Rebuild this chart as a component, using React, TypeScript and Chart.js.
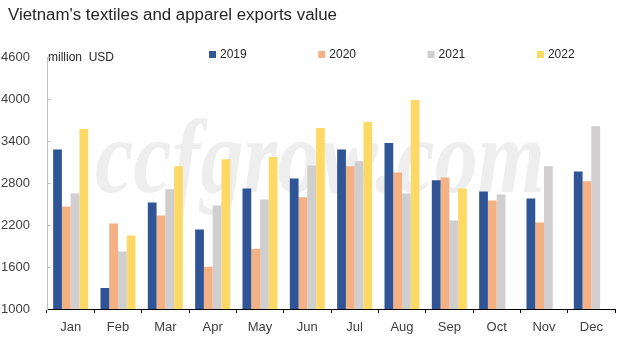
import React, { useEffect, useRef } from "react";
import { Chart, registerables } from "chart.js";

Chart.register(...registerables);

const months = ["Jan", "Feb", "Mar", "Apr", "May", "Jun", "Jul", "Aug", "Sep", "Oct", "Nov", "Dec"];
const seriesNames = ["2019", "2020", "2021", "2022"];
const v2019 = [3280, 1300, 2520, 2135, 2720, 2865, 3280, 3370, 2840, 2680, 2580, 2965];
const v2020 = [2465, 2220, 2335, 1605, 1860, 2595, 3040, 2950, 2880, 2550, 2235, 2825];
const v2021 = [2650, 1820, 2710, 2480, 2565, 3050, 3110, 2650, 2265, 2635, 3040, 3610];
const v2022 = [3570, 2050, 3040, 3140, 3170, 3585, 3670, 3985, 2720, null, null, null];
const colors = ["#2F5597", "#F4B183", "#D0CECE", "#FFD966"];
const yMin = 1000;
const yMax = 4600;
const yStep = 600;
const titleText = "Vietnam's textiles and apparel exports value";
const unitText = "million  USD";
const watermarkText = "ccfgrow.com";

const FONT = '"Liberation Sans", Arial, sans-serif';

const decorPlugin = {
  id: "decor",
  beforeDatasetsDraw(chart: any) {
    const ctx = chart.ctx;
    ctx.save();
    // watermark
    ctx.fillStyle = "#eeeeee";
    ctx.font = 'bold italic 106px "Liberation Serif", "DejaVu Serif", serif';
    ctx.textBaseline = "alphabetic";
    ctx.textAlign = "left";
    const w = ctx.measureText(watermarkText).width;
    ctx.translate(95, 192);
    ctx.scale(450 / w, 1);
    ctx.fillText(watermarkText, 0, 0);
    ctx.restore();
  },
  afterDraw(chart: any) {
    const ctx = chart.ctx;
    const area = chart.chartArea;
    const y = chart.scales.y;
    ctx.save();
    // title
    ctx.fillStyle = "#262626";
    ctx.font = "16px " + FONT;
    ctx.textAlign = "left";
    ctx.textBaseline = "alphabetic";
    const tw = ctx.measureText(titleText).width;
    ctx.save();
    ctx.translate(8, 20);
    ctx.scale(329 / tw, 1);
    ctx.fillText(titleText, 0, 0);
    ctx.restore();
    // unit
    ctx.fillStyle = "#262626";
    ctx.font = "12px " + FONT;
    ctx.fillText(unitText, area.left + 1, 61);
    // legend
    const legendStart = 209;
    const legendGap = 109.3;
    seriesNames.forEach((name, i) => {
      const x0 = legendStart + i * legendGap;
      ctx.fillStyle = colors[i];
      ctx.fillRect(x0, 51, 7, 7);
      ctx.fillStyle = "#262626";
      ctx.font = "12px " + FONT;
      ctx.textBaseline = "middle";
      ctx.fillText(name, x0 + 11, 55);
    });
    // inward y ticks
    ctx.strokeStyle = "#BFBFBF";
    ctx.lineWidth = 1;
    for (let v = yMin + yStep; v <= yMax; v += yStep) {
      const py = Math.round(y.getPixelForValue(v)) + 0.5;
      ctx.beginPath();
      ctx.moveTo(area.left, py);
      ctx.lineTo(area.left + 4, py);
      ctx.stroke();
    }
    ctx.restore();
  },
};

export default function App() {
  const ref = useRef<HTMLCanvasElement | null>(null);
  useEffect(() => {
    document.body.style.margin = "0";
    const canvas = ref.current!;
    const datasets = [v2019, v2020, v2021, v2022].map((d, i) => ({
      label: seriesNames[i],
      data: d,
      backgroundColor: colors[i],
      borderWidth: 0,
      categoryPercentage: 0.74,
      barPercentage: 1,
    }));
    const chart = new Chart(canvas, {
      type: "bar",
      data: { labels: months, datasets },
      plugins: [decorPlugin],
      options: {
        responsive: false,
        animation: false,
        layout: { padding: { top: 57, right: 27, left: 0, bottom: 0 } },
        plugins: {
          legend: { display: false },
          title: { display: false },
          tooltip: { enabled: false },
        },
        scales: {
          x: {
            afterFit(scale: any) {
              scale.height = 31;
            },
            grid: {
              display: true,
              drawOnChartArea: false,
              drawTicks: true,
              tickLength: 4,
              color: "#000000",
              offset: true,
            },
            border: { display: true, color: "#000000", width: 1 },
            ticks: {
              color: "#404040",
              font: { size: 13, family: FONT },
              padding: 7,
              maxRotation: 0,
            },
          },
          y: {
            min: yMin,
            max: yMax,
            afterFit(scale: any) {
              scale.width = 47;
            },
            grid: { display: false, drawTicks: false },
            border: { display: true, color: "#BFBFBF", width: 1 },
            ticks: {
              stepSize: yStep,
              color: "#404040",
              font: { size: 13, family: FONT },
              padding: 17,
              callback: (v: any) => String(v),
            },
          },
        },
      },
    });
    return () => chart.destroy();
  }, []);
  return (
    <div style={{ width: 642, height: 340 }}>
      <canvas ref={ref} width={642} height={340} style={{ display: "block" }} />
    </div>
  );
}
